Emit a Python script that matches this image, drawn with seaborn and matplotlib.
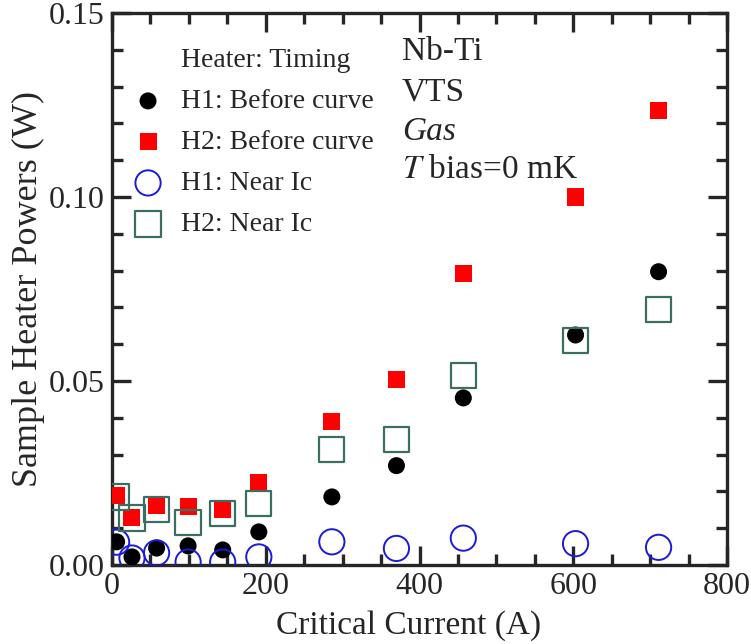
import numpy as np
import pandas as pd
import matplotlib
matplotlib.use("Agg")
import matplotlib.pyplot as plt
from matplotlib.lines import Line2D
from matplotlib.ticker import MultipleLocator
import seaborn as sns

# data
current = [6, 26, 58, 99, 144, 191, 286, 370, 457, 603, 711]
h1_before = [0.0063, 0.0022, 0.0046, 0.0052, 0.0041, 0.0090, 0.0185, 0.0270, 0.0454, 0.0625, 0.0797]
h2_before = [0.0190, 0.0130, 0.0163, 0.0158, 0.0152, 0.0223, 0.0389, 0.0505, 0.0793, 0.1000, 0.1236]
h1_near = [0.0062, 0.0019, 0.0033, 0.0008, 0.0008, 0.0022, 0.0063, 0.0045, 0.0073, 0.0058, 0.0048]
h2_near = [0.0185, 0.0128, 0.0150, 0.0115, 0.0140, 0.0168, 0.0313, 0.0342, 0.0514, 0.0610, 0.0695]

sns.set_style("ticks")
plt.rcParams['font.family'] = ['Liberation Serif', 'DejaVu Serif']
plt.rcParams['mathtext.fontset'] = 'stix'

fig = plt.figure(figsize=(7.51, 6.44), dpi=100)
ax = fig.add_axes([112 / 751, 1 - 565 / 644, 615 / 751, 552 / 644])

df = pd.DataFrame({'I': current, 'h1b': h1_before, 'h2b': h2_before,
                   'h1n': h1_near, 'h2n': h2_near})

sns.scatterplot(data=df, x='I', y='h1b', ax=ax, marker='o', s=150,
                color='black', edgecolor='none', label='H1: Before curve', zorder=3)
sns.scatterplot(data=df, x='I', y='h2b', ax=ax, marker='s', s=150,
                color='#ff0000', edgecolor='none', label='H2: Before curve', zorder=3)
sns.scatterplot(data=df, x='I', y='h1n', ax=ax, marker='o', s=330,
                facecolor='none', edgecolor='#1a1ad8', linewidth=1.4,
                label='H1: Near Ic', zorder=4)
sns.scatterplot(data=df, x='I', y='h2n', ax=ax, marker='s', s=330,
                facecolor='none', edgecolor='#3a6e62', linewidth=1.6,
                label='H2: Near Ic', zorder=4)

ax.set_xlim(0, 800)
ax.set_ylim(0, 0.15)
ax.xaxis.set_major_locator(MultipleLocator(200))
ax.xaxis.set_minor_locator(MultipleLocator(50))
ax.yaxis.set_major_locator(MultipleLocator(0.05))
ax.yaxis.set_minor_locator(MultipleLocator(0.01))
ax.yaxis.set_major_formatter(matplotlib.ticker.FormatStrFormatter('%.2f'))
ax.tick_params(which='both', direction='in', top=True, right=True, width=2.4)
ax.tick_params(which='major', length=14, labelsize=23, pad=5)
ax.tick_params(which='minor', length=8)
for sp in ax.spines.values():
    sp.set_linewidth(2.4)

ax.set_xlabel('Critical Current (A)', fontsize=24)
ax.xaxis.set_label_coords(0.483, -0.082, transform=ax.transAxes)
ax.xaxis.label.set_va('top')
ax.set_ylabel('Sample Heater Powers (W)', fontsize=26, labelpad=3)

# legend with a header row
handles, labels = ax.get_legend_handles_labels()
header = Line2D([], [], linestyle='none', marker=None)
leg = ax.legend([header] + handles, ['Heater: Timing'] + labels,
                loc='upper left', bbox_to_anchor=(0.036, 0.937), frameon=False,
                fontsize=20, markerscale=1.0, handlelength=1.0, handletextpad=0.7,
                labelspacing=0.56, borderpad=0, borderaxespad=0)

ax.text(0.4715, 0.915, 'Nb-Ti', transform=ax.transAxes, fontsize=24, va='baseline')
ax.text(0.4715, 0.841, 'VTS', transform=ax.transAxes, fontsize=24, va='baseline')
ax.text(0.4715, 0.770, 'Gas', transform=ax.transAxes, fontsize=24, va='baseline',
        style='italic')
ax.text(0.4715, 0.701, r'$T$ bias=0 mK', transform=ax.transAxes, fontsize=24,
        va='baseline')

fig.savefig('out.png', dpi=100)
